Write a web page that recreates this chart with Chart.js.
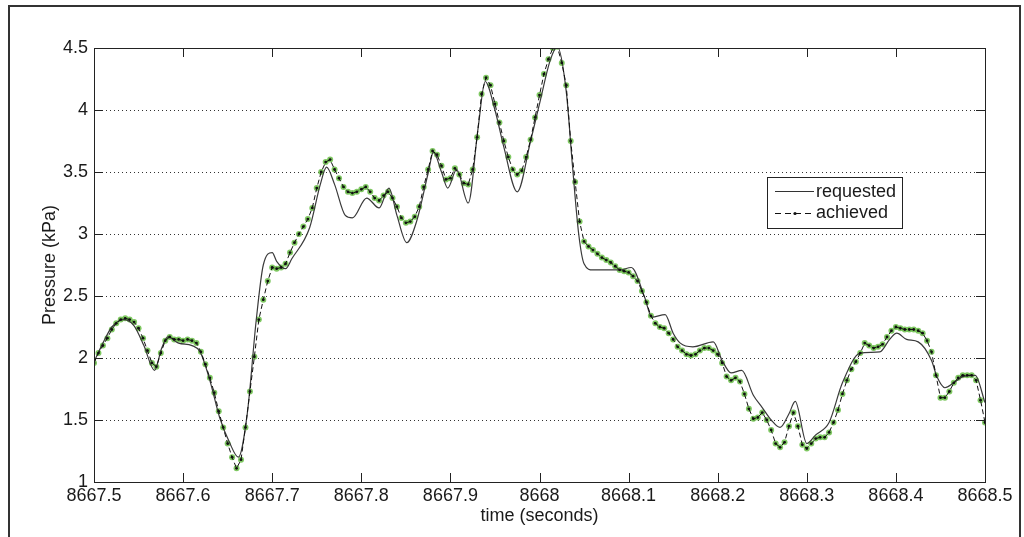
<!DOCTYPE html>
<html>
<head>
<meta charset="utf-8">
<script src="https://cdn.jsdelivr.net/npm/chart.js@4/dist/chart.umd.min.js"></script>
<style>
  html, body { margin: 0; padding: 0; background: #fff; }
  #wrap { width: 1024px; height: 537px; position: relative; }
</style>
</head>
<body>
<div id="wrap"><canvas id="pressureChart" width="1024" height="537"></canvas></div>
<script>
// tick values on each axis
const timeTicks = [8667.5, 8667.6, 8667.7, 8667.8, 8667.9, 8668.0, 8668.1, 8668.2, 8668.3, 8668.4, 8668.5];
const pressureTicks = [1, 1.5, 2, 2.5, 3, 3.5, 4, 4.5];

// requested pressure (solid line)
const requestedTime = [
    8667.500, 8667.510, 8667.520, 8667.533, 8667.545, 8667.556, 8667.568, 8667.576, 8667.583, 8667.595,
    8667.610, 8667.619, 8667.630, 8667.641, 8667.652, 8667.662, 8667.672, 8667.682, 8667.690, 8667.700,
    8667.705, 8667.715, 8667.722, 8667.742, 8667.754, 8667.761, 8667.770, 8667.782, 8667.790, 8667.806,
    8667.820, 8667.831, 8667.840, 8667.851, 8667.862, 8667.875, 8667.881, 8667.890, 8667.897, 8667.907,
    8667.920, 8667.931, 8667.939, 8667.950, 8667.960, 8667.975, 8667.990, 8668.000, 8668.012, 8668.020,
    8668.030, 8668.037, 8668.044, 8668.050, 8668.060, 8668.090, 8668.103, 8668.118, 8668.126, 8668.141,
    8668.150, 8668.158, 8668.172, 8668.195, 8668.205, 8668.215, 8668.227, 8668.240, 8668.250, 8668.260,
    8668.270, 8668.280, 8668.287, 8668.300, 8668.310, 8668.325, 8668.340, 8668.360, 8668.382, 8668.393,
    8668.401, 8668.412, 8668.425, 8668.440, 8668.446, 8668.455, 8668.465, 8668.475, 8668.489, 8668.500
];
const requestedPressure = [
    1.97, 2.12, 2.25, 2.31, 2.26, 2.10, 1.90, 2.08, 2.17, 2.12,
    2.10, 2.05, 1.82, 1.52, 1.32, 1.20, 1.55, 2.30, 2.75, 2.85,
    2.78, 2.72, 2.80, 3.05, 3.40, 3.54, 3.40, 3.15, 3.13, 3.29,
    3.21, 3.37, 3.15, 2.93, 3.10, 3.49, 3.66, 3.50, 3.37, 3.52,
    3.25, 3.85, 4.23, 4.00, 3.70, 3.34, 3.75, 4.05, 4.40, 4.51,
    4.15, 3.55, 3.00, 2.76, 2.71, 2.71, 2.73, 2.49, 2.33, 2.35,
    2.20, 2.12, 2.09, 2.13, 1.98, 1.88, 1.90, 1.70, 1.60, 1.50,
    1.44, 1.55, 1.65, 1.31, 1.38, 1.48, 1.80, 2.04, 2.05, 2.15,
    2.20, 2.15, 2.13, 1.98, 1.85, 1.76, 1.80, 1.85, 1.86, 1.64
];

// achieved pressure (dashed line with dots)
const achievedTime = [
    8667.500, 8667.505, 8667.510, 8667.515, 8667.520, 8667.525, 8667.530, 8667.535, 8667.540, 8667.545,
    8667.550, 8667.555, 8667.560, 8667.565, 8667.570, 8667.575, 8667.580, 8667.585, 8667.590, 8667.595,
    8667.600, 8667.605, 8667.610, 8667.615, 8667.620, 8667.625, 8667.630, 8667.635, 8667.640, 8667.645,
    8667.650, 8667.655, 8667.660, 8667.665, 8667.670, 8667.675, 8667.680, 8667.685, 8667.690, 8667.695,
    8667.700, 8667.705, 8667.710, 8667.715, 8667.720, 8667.725, 8667.730, 8667.735, 8667.740, 8667.745,
    8667.750, 8667.755, 8667.760, 8667.765, 8667.770, 8667.775, 8667.780, 8667.785, 8667.790, 8667.795,
    8667.800, 8667.805, 8667.810, 8667.815, 8667.820, 8667.825, 8667.830, 8667.835, 8667.840, 8667.845,
    8667.850, 8667.855, 8667.860, 8667.865, 8667.870, 8667.875, 8667.880, 8667.885, 8667.890, 8667.895,
    8667.900, 8667.905, 8667.910, 8667.915, 8667.920, 8667.925, 8667.930, 8667.935, 8667.940, 8667.945,
    8667.950, 8667.955, 8667.960, 8667.965, 8667.970, 8667.975, 8667.980, 8667.985, 8667.990, 8667.995,
    8668.000, 8668.005, 8668.010, 8668.015, 8668.020, 8668.025, 8668.030, 8668.035, 8668.040, 8668.045,
    8668.050, 8668.055, 8668.060, 8668.065, 8668.070, 8668.075, 8668.080, 8668.085, 8668.090, 8668.095,
    8668.100, 8668.105, 8668.110, 8668.115, 8668.120, 8668.125, 8668.130, 8668.135, 8668.140, 8668.145,
    8668.150, 8668.155, 8668.160, 8668.165, 8668.170, 8668.175, 8668.180, 8668.185, 8668.190, 8668.195,
    8668.200, 8668.205, 8668.210, 8668.215, 8668.220, 8668.225, 8668.230, 8668.235, 8668.240, 8668.245,
    8668.250, 8668.255, 8668.260, 8668.265, 8668.270, 8668.275, 8668.280, 8668.285, 8668.290, 8668.295,
    8668.300, 8668.305, 8668.310, 8668.315, 8668.320, 8668.325, 8668.330, 8668.335, 8668.340, 8668.345,
    8668.350, 8668.355, 8668.360, 8668.365, 8668.370, 8668.375, 8668.380, 8668.385, 8668.390, 8668.395,
    8668.400, 8668.405, 8668.410, 8668.415, 8668.420, 8668.425, 8668.430, 8668.435, 8668.440, 8668.445,
    8668.450, 8668.455, 8668.460, 8668.465, 8668.470, 8668.475, 8668.480, 8668.485, 8668.490, 8668.495,
    8668.500
];
const achievedPressure = [
    1.96, 2.04, 2.10, 2.16, 2.23, 2.28, 2.31, 2.32, 2.31, 2.29,
    2.24, 2.16, 2.06, 1.96, 1.93, 2.04, 2.14, 2.17, 2.15, 2.15,
    2.14, 2.15, 2.14, 2.12, 2.05, 1.95, 1.84, 1.72, 1.57, 1.44,
    1.31, 1.20, 1.11, 1.18, 1.44, 1.73, 2.01, 2.31, 2.47, 2.62,
    2.73, 2.72, 2.73, 2.76, 2.85, 2.93, 3.00, 3.06, 3.12, 3.21,
    3.37, 3.50, 3.58, 3.60, 3.52, 3.45, 3.38, 3.34, 3.33, 3.34,
    3.36, 3.38, 3.34, 3.29, 3.27, 3.31, 3.34, 3.29, 3.22, 3.13,
    3.09, 3.10, 3.14, 3.22, 3.38, 3.52, 3.67, 3.64, 3.55, 3.44,
    3.45, 3.53, 3.48, 3.41, 3.40, 3.52, 3.78, 4.13, 4.26, 4.20,
    4.05, 3.90, 3.75, 3.62, 3.52, 3.48, 3.51, 3.62, 3.76, 3.94,
    4.12, 4.29, 4.41, 4.50, 4.51, 4.38, 4.20, 3.75, 3.42, 3.10,
    2.94, 2.90, 2.87, 2.84, 2.81, 2.79, 2.77, 2.74, 2.71, 2.70,
    2.69, 2.66, 2.62, 2.54, 2.45, 2.34, 2.28, 2.25, 2.24, 2.20,
    2.15, 2.09, 2.06, 2.03, 2.02, 2.03, 2.06, 2.08, 2.08, 2.06,
    2.03, 1.96, 1.85, 1.82, 1.84, 1.81, 1.71, 1.59, 1.51, 1.52,
    1.56, 1.50, 1.42, 1.31, 1.28, 1.32, 1.45, 1.56, 1.45, 1.30,
    1.27, 1.31, 1.35, 1.36, 1.36, 1.40, 1.48, 1.58, 1.71, 1.82,
    1.91, 1.97, 2.04, 2.12, 2.10, 2.08, 2.09, 2.11, 2.17, 2.22,
    2.25, 2.24, 2.23, 2.23, 2.23, 2.22, 2.20, 2.14, 2.05, 1.86,
    1.68, 1.68, 1.73, 1.80, 1.84, 1.86, 1.86, 1.86, 1.82, 1.66,
    1.48
];

const toPoints = (xs, ys) => xs.map((x, i) => ({ x: x, y: ys[i] }));

const FONT = "'Liberation Sans', Arial, sans-serif";
const INK = '#1a1a1a';

// box, inward tick marks, outer frame and legend, MATLAB style
const matlabFrame = {
    id: 'matlabFrame',
    afterDraw(chart) {
        const ctx = chart.ctx;
        const a = chart.chartArea;
        const xs = chart.scales.x;
        const ys = chart.scales.y;
        ctx.save();

        // outer figure frame
        ctx.strokeStyle = '#333';
        ctx.lineWidth = 2;
        ctx.strokeRect(9, 6, 1011, 540);

        // axes box
        ctx.strokeStyle = '#222';
        ctx.lineWidth = 1;
        ctx.strokeRect(a.left + 0.5, a.top + 0.5, a.right - a.left, a.bottom - a.top);

        // tick marks pointing inward
        ctx.beginPath();
        timeTicks.forEach(t => {
            const px = Math.round(xs.getPixelForValue(t)) + 0.5;
            ctx.moveTo(px, a.bottom); ctx.lineTo(px, a.bottom - 9);
            ctx.moveTo(px, a.top); ctx.lineTo(px, a.top + 9);
        });
        pressureTicks.forEach(p => {
            const py = Math.round(ys.getPixelForValue(p)) + 0.5;
            ctx.moveTo(a.left, py); ctx.lineTo(a.left + 9, py);
            ctx.moveTo(a.right, py); ctx.lineTo(a.right - 9, py);
        });
        ctx.stroke();

        // legend box
        const lx = 767, ly = 177, lw = 135, lh = 51;
        ctx.fillStyle = '#fff';
        ctx.fillRect(lx, ly, lw, lh);
        ctx.strokeStyle = '#222';
        ctx.strokeRect(lx + 0.5, ly + 0.5, lw, lh);

        const d = chart.data.datasets;
        ctx.font = '18px ' + FONT;
        ctx.fillStyle = INK;
        ctx.textBaseline = 'middle';

        // requested entry
        ctx.strokeStyle = '#333';
        ctx.beginPath();
        ctx.moveTo(775, 191.5); ctx.lineTo(814, 191.5);
        ctx.stroke();
        ctx.fillText(d[1].label, 816, 192);

        // achieved entry
        ctx.strokeStyle = '#111';
        ctx.setLineDash([6, 4]);
        ctx.beginPath();
        ctx.moveTo(775, 213.5); ctx.lineTo(814, 213.5);
        ctx.stroke();
        ctx.setLineDash([]);
        ctx.beginPath();
        ctx.arc(795, 213.5, 1.6, 0, Math.PI * 2);
        ctx.fillStyle = '#111';
        ctx.fill();
        ctx.fillStyle = INK;
        ctx.fillText(d[0].label, 816, 213);

        ctx.restore();
    }
};

new Chart(document.getElementById('pressureChart'), {
    type: 'line',
    data: {
        datasets: [
            {
                label: 'achieved',
                data: toPoints(achievedTime, achievedPressure),
                borderColor: '#111',
                borderWidth: 1,
                borderDash: [5, 3],
                pointRadius: 1.4,
                pointBackgroundColor: '#111',
                pointBorderWidth: 0,
                tension: 0,
                order: 0
            },
            {
                label: 'requested',
                data: toPoints(requestedTime, requestedPressure),
                borderColor: '#3a3a3a',
                borderWidth: 1.2,
                pointRadius: 0,
                cubicInterpolationMode: 'monotone',
                order: 1
            },
            {
                label: 'achieved samples',
                data: toPoints(achievedTime, achievedPressure),
                showLine: false,
                pointRadius: 3,
                pointBackgroundColor: 'rgba(104, 190, 70, 0.85)',
                pointBorderWidth: 0,
                order: 2
            }
        ]
    },
    options: {
        responsive: false,
        animation: false,
        layout: { padding: { left: 0, top: 48, right: 39, bottom: 0 } },
        plugins: {
            legend: { display: false },
            tooltip: { enabled: false }
        },
        scales: {
            x: {
                type: 'linear',
                min: 8667.5,
                max: 8668.5,
                afterBuildTicks: (scale) => { scale.ticks = timeTicks.map(v => ({ value: v })); },
                afterFit: (scale) => { scale.height = 55; },
                grid: { display: false, drawTicks: false },
                border: { display: false },
                ticks: {
                    padding: 3,
                    color: INK,
                    font: { family: FONT, size: 18 },
                    maxRotation: 0,
                    autoSkip: false,
                    callback: (v) => String(Number(v.toFixed(1)))
                },
                title: {
                    display: true,
                    text: 'time (seconds)',
                    color: INK,
                    font: { family: FONT, size: 18 },
                    padding: { top: 0, bottom: 10 }
                }
            },
            y: {
                type: 'linear',
                min: 1,
                max: 4.5,
                afterBuildTicks: (scale) => { scale.ticks = pressureTicks.map(v => ({ value: v })); },
                afterFit: (scale) => { scale.width = 94; },
                grid: {
                    drawTicks: false,
                    color: (c) => (c.tick && (c.tick.value === 1 || c.tick.value === 4.5)) ? 'rgba(0,0,0,0)' : '#333',
                    lineWidth: 1
                },
                border: { display: false, dash: [1, 3] },
                ticks: {
                    padding: 6,
                    color: INK,
                    font: { family: FONT, size: 18 },
                    autoSkip: false,
                    callback: (v) => String(v)
                },
                title: {
                    display: true,
                    text: 'Pressure (kPa)',
                    color: INK,
                    font: { family: FONT, size: 18 },
                    padding: { top: 39, bottom: 0 }
                }
            }
        }
    },
    plugins: [matlabFrame]
});
</script>
</body>
</html>
